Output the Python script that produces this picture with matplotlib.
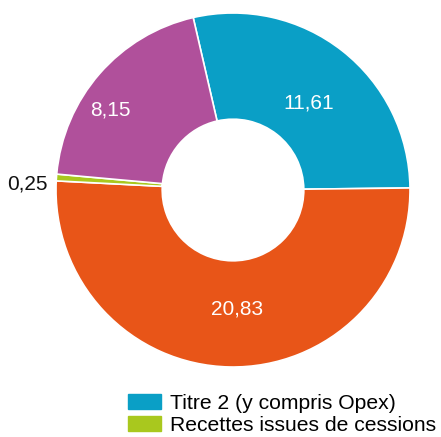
import matplotlib.pyplot as plt
import matplotlib.patches as mpatches
import numpy as np

plt.rcParams['font.family'] = ['Liberation Sans', 'DejaVu Sans']

labels = ['Titre 2 (y compris Opex)', 'Recettes hors titre 2', 'Recettes issues de cessions', 'Autres']
values = [11.61, 20.83, 0.25, 8.15]
value_labels = ['11,61', '20,83', '0,25', '8,15']
colors = ['#0a9fc6', '#e85518', '#a9c81e', '#b0509b']
# where each value label sits: radius fraction and angle nudge (deg)
label_r = [0.65, 0.67, 1.0, 0.83]
label_da = [-3, 3, 2, 8]

W, H = 441, 437
fig = plt.figure(figsize=(W / 100, H / 100), dpi=100)
cx, cy, r = 233, 190, 177
ax = fig.add_axes([(cx - r) / W, (H - cy - r) / H, 2 * r / W, 2 * r / H])
ax.set_aspect('equal')

start = 103
wedges, _ = ax.pie(values, colors=colors, startangle=start, counterclock=False,
                   wedgeprops=dict(width=0.6, edgecolor='white', linewidth=1.2))

for w, txt, lr, da in zip(wedges, value_labels, label_r, label_da):
    mid = np.deg2rad((w.theta1 + w.theta2) / 2 + da)
    if w.theta2 - w.theta1 < 5:
        ax.text(-1.05, np.sin(mid), txt, ha='right', va='center', fontsize=15, color='#111111')
    else:
        ax.text(lr * np.cos(mid), lr * np.sin(mid), txt, ha='center', va='center',
                fontsize=15, color='white')
ax.set_xlim(-1, 1)
ax.set_ylim(-1, 1)
ax.axis('off')

handles = [mpatches.Patch(color=colors[0]), mpatches.Patch(color=colors[2])]
fig.legend(handles, [labels[0], labels[2]], loc='upper left',
           bbox_to_anchor=(128 / W, 1 - 394 / H), frameon=False, fontsize=15.2,
           handlelength=1.55, handleheight=0.72, handletextpad=0.45, labelspacing=0.15,
           borderpad=0, borderaxespad=0)

fig.savefig('out.png', dpi=100)
